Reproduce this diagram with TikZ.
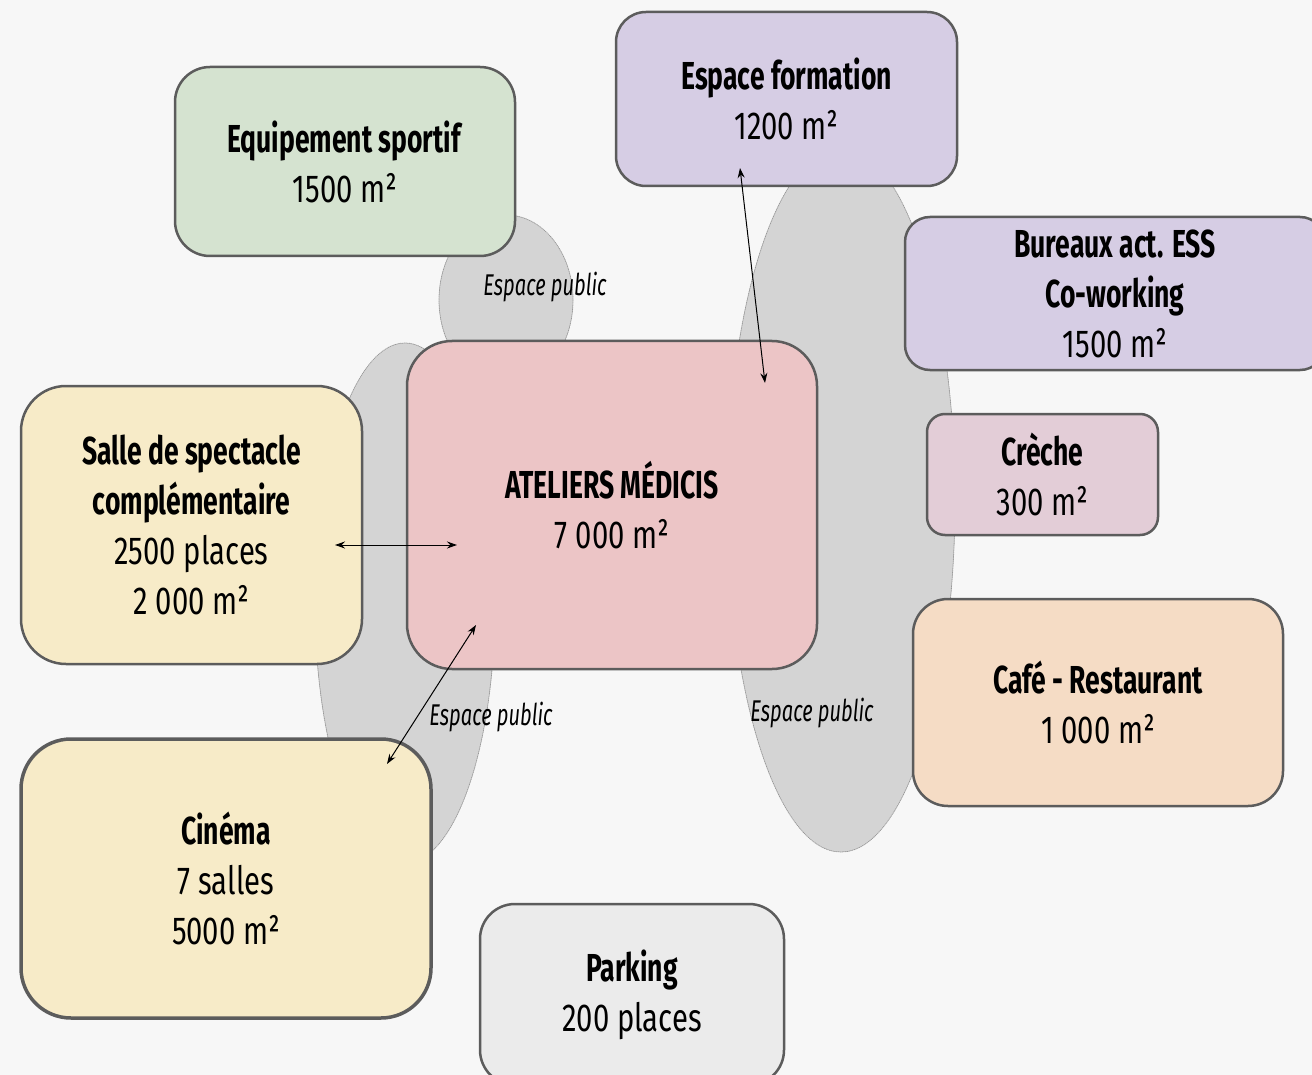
\documentclass[tikz,border=0pt]{standalone}
\usepackage{fontspec}
\setmainfont{Fira Sans}[FakeStretch=0.75,BoldFeatures={FakeStretch=0.68},ItalicFeatures={FakeStretch=0.67}]
\usetikzlibrary{arrows.meta}
\definecolor{bgc}{HTML}{F7F7F7}
\definecolor{zonec}{HTML}{D4D4D4}
\definecolor{zoneb}{HTML}{9A9A9A}
\definecolor{boxb}{HTML}{5C5C5C}
\definecolor{sportc}{HTML}{D5E3D0}
\definecolor{lilac}{HTML}{D6CDE4}
\definecolor{crechec}{HTML}{E3CDD7}
\definecolor{cafec}{HTML}{F5DCC5}
\definecolor{medicisc}{HTML}{ECC5C6}
\definecolor{sallec}{HTML}{F7EBC8}
\definecolor{parkc}{HTML}{EBEBEB}

\begin{document}
\begin{tikzpicture}[x=1pt,y=-1pt,>={Stealth[length=10pt,width=7pt]},line cap=round,
  zone/.style={fill=zonec,draw=zoneb,densely dotted,line width=0.8pt},
  box/.style={draw=boxb,line width=2.5pt,align=center,inner sep=0pt,font=\fontsize{39}{50}\selectfont},
  lbl/.style={font=\fontsize{30}{30}\selectfont\itshape}]
\fill[bgc] (0,0) rectangle (1312,1075);
\useasboundingbox (0,0) rectangle (1312,1075);
\clip (0,0) rectangle (1312,1075);
\draw[zone] (506,300) ellipse [x radius=67,y radius=85];
\draw[zone] (405,603) ellipse [x radius=90,y radius=260];
\draw[zone] (841,500) ellipse [x radius=114,y radius=352];
\node[lbl] (pub1) at (545,287) {Espace public};
\node[lbl] (pub2) at (491,717) {Espace public};
\node[lbl] (pub3) at (812,713) {Espace public};
\node[box,fill=sportc,minimum width=340pt,minimum height=189pt,rounded corners=35pt] (sport) at (345,161.5) {\textbf{Equipement sportif}\\1500 m²};
\node[box,fill=lilac,minimum width=341pt,minimum height=174pt,rounded corners=30pt] (formation) at (786.5,99) {\textbf{Espace formation}\\1200 m²};
\node[box,fill=lilac,minimum width=420pt,minimum height=153pt,rounded corners=25pt] (bureaux) at (1115,293.5) {\textbf{Bureaux act. ESS}\\\textbf{Co-working}\\1500 m²};
\node[box,fill=crechec,minimum width=231pt,minimum height=121pt,rounded corners=18pt] (creche) at (1042.5,474.5) {\textbf{Crèche}\\300 m²};
\node[box,fill=cafec,minimum width=370pt,minimum height=207pt,rounded corners=35pt] (cafe) at (1098,702.5) {\textbf{Café - Restaurant}\\1 000 m²};
\node[box,fill=medicisc,minimum width=410pt,minimum height=328pt,rounded corners=45pt] (medicis) at (612,505) {\textbf{ATELIERS MÉDICIS}\\7 000 m²};
\node[box,fill=sallec,minimum width=341pt,minimum height=278pt,rounded corners=45pt] (salle) at (191.5,525) {\textbf{Salle de spectacle}\\\textbf{complémentaire}\\2500 places\\2 000 m²};
\node[box,fill=sallec,line width=3.5pt,minimum width=410pt,minimum height=279pt,rounded corners=50pt] (cinema) at (226,878.5) {\textbf{Cinéma}\\7 salles\\5000 m²};
\node[box,fill=parkc,minimum width=304pt,minimum height=181pt,rounded corners=35pt] (parking) at (632,994.5) {\textbf{Parking}\\200 places};
\coordinate (salle-in) at (335,545);
\coordinate (medicis-w) at (457,545);
\coordinate (formation-in) at (740,168);
\coordinate (medicis-n) at (765,383);
\coordinate (medicis-sw) at (476,625);
\coordinate (cinema-in) at (387,764);
\draw[<->,line width=1pt] (salle-in) -- (medicis-w);
\draw[<->,line width=1pt] (formation-in) -- (medicis-n);
\draw[<->,line width=1pt] (medicis-sw) -- (cinema-in);
\end{tikzpicture}
\end{document}
